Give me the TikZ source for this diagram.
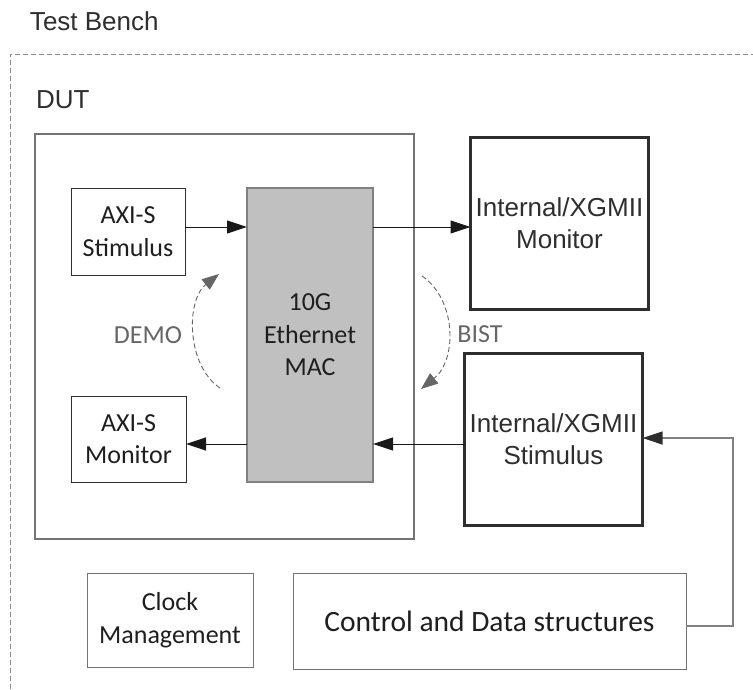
\documentclass[tikz,border=0pt]{standalone}
\usepackage{fontspec}
\setmainfont{Liberation Sans}
\newfontfamily\calib{Carlito}
\usetikzlibrary{arrows.meta,calc}
\definecolor{txtA}{HTML}{2E2E2E}
\definecolor{txtC}{HTML}{1E1E1E}
\definecolor{lgray}{HTML}{666666}
\definecolor{macfill}{HTML}{C0C0C1}
\tikzset{
  every node/.style={inner sep=0pt, outer sep=0pt},
  arialtxt/.style={font=\fontsize{26}{30}\selectfont, text=txtA},
  caltxt/.style={font=\calib\fontsize{26}{32.5}\selectfont, text=txtC, align=center},
  thinbox/.style={draw=txtA, line width=1pt, caltxt},
  bigbox/.style={draw=txtA, line width=3pt, font=\fontsize{26}{32}\selectfont, text=txtA, align=center},
  arr/.style={draw=black!90, line width=1pt, -{Triangle[length=20pt,width=13pt]}},
  fbarr/.style={draw=black!50, line width=1.2pt, -{Triangle[length=20pt,width=13pt,color=txtA]}},
  modearr/.style={draw=lgray, line width=0.9pt, dash pattern=on 5pt off 3pt, -{Triangle[length=17pt,width=13pt,color=lgray]}},
  modetxt/.style={font=\calib\fontsize{26}{30}\selectfont, text=lgray}
}
\begin{document}
\begin{tikzpicture}[x=1pt,y=-1pt]
\useasboundingbox (0,0) rectangle (753,689);
% test bench dashed border
\draw[draw=black!45, line width=1pt, dash pattern=on 5pt off 3pt] (10,689) -- (10,54) -- (753,54);
\node[arialtxt, anchor=west] (tb) at (30,21) {Test Bench};
\node[arialtxt, anchor=west] (dutl) at (36,100) {DUT};
% DUT box
\node[draw=black!55, line width=1.2pt, minimum width=379pt, minimum height=405pt] (dut) at (224.5,336.5) {};
\node[thinbox, minimum width=114pt, minimum height=87pt] (stim) at (128,231.5) {AXI-S\\Stimulus};
\node[thinbox, minimum width=115pt, minimum height=86pt] (amon) at (128.5,439) {AXI-S\\Monitor};
\node[draw=black!50, fill=macfill, line width=1.2pt, caltxt, minimum width=126pt, minimum height=294pt] (mac) at (310,335) {10G\\Ethernet\\MAC};
\node[bigbox, minimum width=178pt, minimum height=172pt] (xmon) at (559.5,223.5) {Internal/XGMII\\Monitor};
\node[bigbox, minimum width=178pt, minimum height=172pt] (xstim) at (553.5,439.5) {Internal/XGMII\\Stimulus};
\node[thinbox, draw=black!55, minimum width=166pt, minimum height=94pt] (clk) at (170,620) {Clock\\Management};
\node[thinbox, draw=black!55, minimum width=393pt, minimum height=96pt, font=\calib\fontsize{29.5}{34}\selectfont] (ctrl) at (489.5,621) {Control and Data structures};
% rows
\coordinate (row1) at (0,227);
\coordinate (row2) at (0,444);
\coordinate (fb) at (0,438);
\coordinate (fbc) at (733,626);
\draw[arr] (stim.east |- row1) -- (mac.west |- row1);
\draw[arr] (mac.east |- row1) -- (xmon.west |- row1);
\draw[arr] (xstim.west |- row2) -- (mac.east |- row2);
\draw[arr] (mac.west |- row2) -- (amon.east |- row2);
\draw[fbarr] (ctrl.east |- fbc) -- (fbc) -- (fbc |- fb) -- (xstim.east |- fb);
% mode arcs
\coordinate (d0) at (220,388);
\coordinate (d1) at (219,274);
\draw[modearr] (d0) .. controls (186,365) and (186,300) .. (d1);
\node[modetxt] (demo) at (148,335) {DEMO};
\coordinate (b0) at (422,276);
\coordinate (b1) at (421,389);
\draw[modearr] (b0) .. controls (457,300) and (457,360) .. (b1);
\node[modetxt] (bist) at (480,334) {BIST};
\end{tikzpicture}
\end{document}
